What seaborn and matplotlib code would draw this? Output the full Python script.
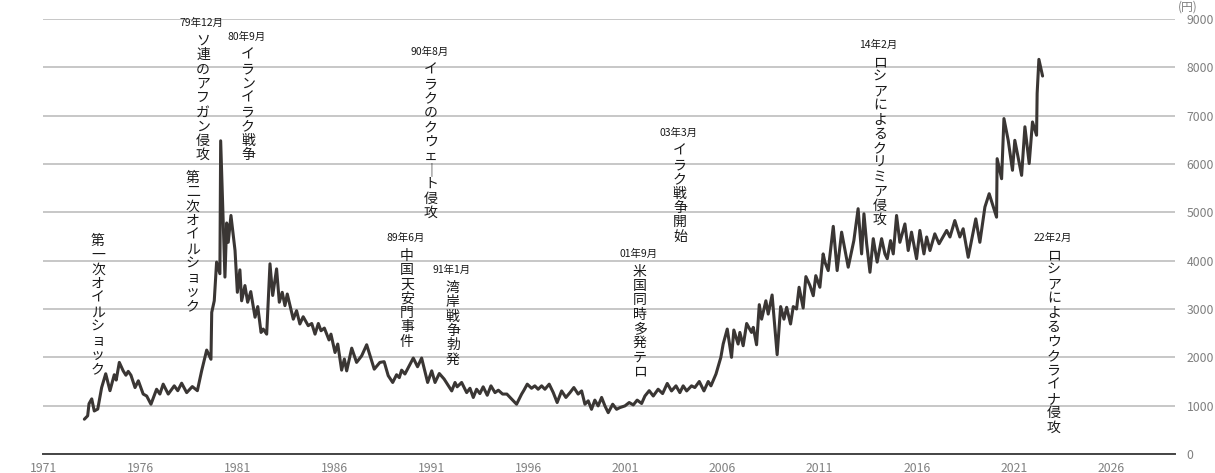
import numpy as np
import pandas as pd
import matplotlib
matplotlib.use("Agg")
import matplotlib.pyplot as plt
import seaborn as sns

# gold price (yen per gram)
years = [
    1973.13, 1973.30, 1973.37, 1973.51, 1973.64, 1973.82, 1974.02, 1974.23, 1974.45, 1974.67,
    1974.77, 1974.93, 1975.13, 1975.27, 1975.39, 1975.53, 1975.74, 1975.91, 1976.16, 1976.34,
    1976.56, 1976.85, 1977.02, 1977.19, 1977.45, 1977.76, 1977.94, 1978.14, 1978.40, 1978.69,
    1978.95, 1979.17, 1979.43, 1979.65, 1979.69, 1979.82, 1979.94, 1980.11, 1980.15, 1980.37,
    1980.46, 1980.54, 1980.68, 1980.89, 1981.01, 1981.14, 1981.23, 1981.40, 1981.54, 1981.70,
    1981.92, 1982.06, 1982.23, 1982.34, 1982.52, 1982.69, 1982.83, 1983.03, 1983.17, 1983.32,
    1983.46, 1983.58, 1983.89, 1984.06, 1984.23, 1984.40, 1984.66, 1984.84, 1985.01, 1985.18,
    1985.32, 1985.49, 1985.73, 1985.83, 1986.04, 1986.18, 1986.38, 1986.52, 1986.64, 1986.90,
    1987.15, 1987.41, 1987.67, 1988.06, 1988.35, 1988.57, 1988.78, 1989.01, 1989.21, 1989.35,
    1989.47, 1989.64, 1990.07, 1990.29, 1990.50, 1990.81, 1991.02, 1991.19, 1991.41, 1991.66,
    1992.05, 1992.22, 1992.33, 1992.56, 1992.82, 1992.99, 1993.16, 1993.33, 1993.50, 1993.67,
    1993.88, 1994.07, 1994.28, 1994.45, 1994.67, 1994.89, 1995.39, 1995.65, 1995.77, 1995.94,
    1996.16, 1996.33, 1996.50, 1996.68, 1996.85, 1997.07, 1997.28, 1997.48, 1997.71, 1997.93,
    1998.14, 1998.34, 1998.56, 1998.74, 1998.91, 1999.08, 1999.25, 1999.42, 1999.59, 1999.77,
    1999.94, 2000.11, 2000.34, 2000.54, 2000.71, 2000.97, 2001.19, 2001.40, 2001.60, 2001.83,
    2002.00, 2002.22, 2002.43, 2002.68, 2002.91, 2003.15, 2003.37, 2003.60, 2003.80, 2003.97,
    2004.15, 2004.40, 2004.57, 2004.80, 2005.04, 2005.26, 2005.40, 2005.66, 2005.91, 2006.03,
    2006.24, 2006.46, 2006.58, 2006.80, 2006.89, 2007.06, 2007.24, 2007.49, 2007.58, 2007.75,
    2007.89, 2008.01, 2008.23, 2008.35, 2008.55, 2008.81, 2008.99, 2009.16, 2009.30, 2009.50,
    2009.64, 2009.81, 2009.94, 2010.15, 2010.29, 2010.50, 2010.67, 2010.80, 2011.01, 2011.18,
    2011.27, 2011.44, 2011.70, 2011.90, 2012.13, 2012.47, 2012.76, 2012.98, 2013.16, 2013.28,
    2013.42, 2013.59, 2013.76, 2013.96, 2014.19, 2014.36, 2014.48, 2014.65, 2014.79, 2014.96,
    2015.13, 2015.39, 2015.56, 2015.73, 2015.99, 2016.16, 2016.37, 2016.51, 2016.68, 2016.93,
    2017.15, 2017.54, 2017.71, 2017.96, 2018.22, 2018.39, 2018.65, 2019.04, 2019.25, 2019.51,
    2019.73, 2020.11, 2020.14, 2020.37, 2020.49, 2020.71, 2020.93, 2021.05, 2021.40, 2021.57,
    2021.79, 2021.96, 2022.17, 2022.20, 2022.29, 2022.48,
]
prices = [
    720, 790, 1040, 1140, 890, 930, 1375, 1660, 1310, 1640,
    1530, 1895, 1720, 1630, 1710, 1630, 1375, 1515, 1240, 1200,
    1030, 1340, 1240, 1445, 1240, 1410, 1310, 1465, 1270, 1395,
    1310, 1720, 2150, 1960, 2930, 3170, 3970, 3730, 6480, 3660,
    4780, 4380, 4935, 4210, 3345, 3810, 3170, 3485, 3140, 3360,
    2830, 3050, 2515, 2585, 2480, 3935, 3280, 3830, 3140, 3345,
    3070, 3310, 2790, 2965, 2690, 2840, 2655, 2700, 2480, 2700,
    2550, 2605, 2360, 2480, 2100, 2275, 1735, 1965, 1720, 2190,
    1895, 2030, 2260, 1755, 1895, 1910, 1620, 1480, 1640, 1580,
    1735, 1655, 1985, 1805, 1985, 1480, 1720, 1480, 1665, 1550,
    1305, 1480, 1390, 1480, 1270, 1360, 1170, 1340, 1250, 1390,
    1215, 1410, 1270, 1320, 1240, 1240, 1030, 1240, 1320, 1445,
    1360, 1410, 1340, 1410, 1340, 1445, 1270, 1065, 1305, 1170,
    1270, 1375, 1240, 1305, 1030, 1100, 925, 1115, 995, 1170,
    995, 855, 1030, 925, 960, 995, 1065, 1015, 1115, 1045,
    1200, 1310, 1200, 1340, 1250, 1460, 1305, 1410, 1270, 1410,
    1305, 1410, 1375, 1500, 1305, 1500, 1410, 1655, 2000, 2275,
    2585, 2000, 2565, 2275, 2515, 2240, 2700, 2515, 2620, 2260,
    3090, 2790, 3170, 2895, 3290, 2055, 3050, 2790, 3035, 2690,
    3050, 3000, 3450, 3020, 3670, 3485, 3275, 3690, 3450, 4140,
    3970, 3795, 4710, 3795, 4590, 3865, 4415, 5075, 4140, 4970,
    4350, 3760, 4455, 3970, 4455, 4140, 4040, 4415, 4140, 4935,
    4380, 4760, 4210, 4590, 4040, 4625, 4140, 4490, 4210, 4555,
    4350, 4625, 4490, 4830, 4490, 4660, 4070, 4865, 4380, 5110,
    5385, 4900, 6110, 5695, 6940, 6490, 5870, 6490, 5765, 6770,
    6010, 6870, 6595, 7460, 8165, 7820,
]

# events: date label, description
event_dates = ["", "79年12月", "", "80年9月", "89年6月", "90年8月", "91年1月",
               "01年9月", "03年3月", "14年2月", "22年2月"]
event_texts = ["第一次オイルショック", "ソ連のアフガン侵攻", "第二次オイルショック",
               "イランイラク戦争", "中国天安門事件", "イラクのクウェ｜ト侵攻",
               "湾岸戦争勃発", "米国同時多発テロ", "イラク戦争開始",
               "ロシアによるクリミア侵攻", "ロシアによるウクライナ侵攻"]
# where each column of text starts (x in years, y top in yen)
event_pos = [(1973.83, 4575), (1979.24, 8715), (1978.72, 5880), (1981.56, 8425),
             (1989.74, 4265), (1990.98, 8115), (1992.11, 3600), (2001.74, 3935),
             (2003.80, 6440), (2014.10, 8260), (2023.06, 4265)]

x_ticks = list(range(1971, 2027, 5))
y_ticks = list(range(0, 9001, 1000))

sns.set_style("white")
plt.rcParams['font.family'] = ['Noto Sans CJK JP', 'DejaVu Sans']

df = pd.DataFrame({"year": years, "price": prices})

fig = plt.figure(figsize=(12.15, 4.73), dpi=100)
ax = fig.add_axes([43 / 1215, 1 - 454 / 473, (1175 - 43) / 1215, (454 - 19) / 473])

sns.lineplot(data=df, x="year", y="price", ax=ax, color="#3a3634", linewidth=2.2,
             sort=False, zorder=3)

ax.set_xlim(1971, 2029.3)
ax.set_ylim(0, 9000)
ax.set_xticks(x_ticks)
ax.set_yticks(y_ticks)
ax.set_xlabel("")
ax.set_ylabel("")

ax.yaxis.tick_right()
ax.grid(axis="y", color="#bdbdbd", linewidth=1.2)
ax.grid(axis="x", visible=False)
for s in ["top", "left", "right"]:
    ax.spines[s].set_visible(False)
ax.spines["bottom"].set_color("#444444")
ax.spines["bottom"].set_linewidth(1.4)
ax.tick_params(axis="x", length=3.5, width=1, color="#444444", pad=2,
               labelsize=8.8, labelcolor="#808080")
ax.tick_params(axis="y", length=0, pad=8.5, labelsize=8.8, labelcolor="#808080")
for lab in ax.get_yticklabels():
    lab.set_horizontalalignment("left")

fig.text(1178 / 1215, 1 - 7 / 473, "(円)", ha="left", va="center",
         fontsize=8.5, color="#808080")

size = 10
pitch = 10.3  # points between stacked characters


def vtext(x, y, s):
    for i, ch in enumerate(s):
        ax.annotate(ch, (x, y), xytext=(0, -(i * pitch + 0.86 * size)),
                    textcoords="offset points", ha="center", va="baseline",
                    fontsize=size, color="#1a1a1a", annotation_clip=False)


for d, t, (x, y) in zip(event_dates, event_texts, event_pos):
    if d:
        ax.annotate(d, (x, y), xytext=(-1, 7), textcoords="offset points",
                    ha="center", va="center", fontsize=7.5, color="#1a1a1a",
                    annotation_clip=False)
    vtext(x, y, t)

fig.savefig("out.png", dpi=100)
